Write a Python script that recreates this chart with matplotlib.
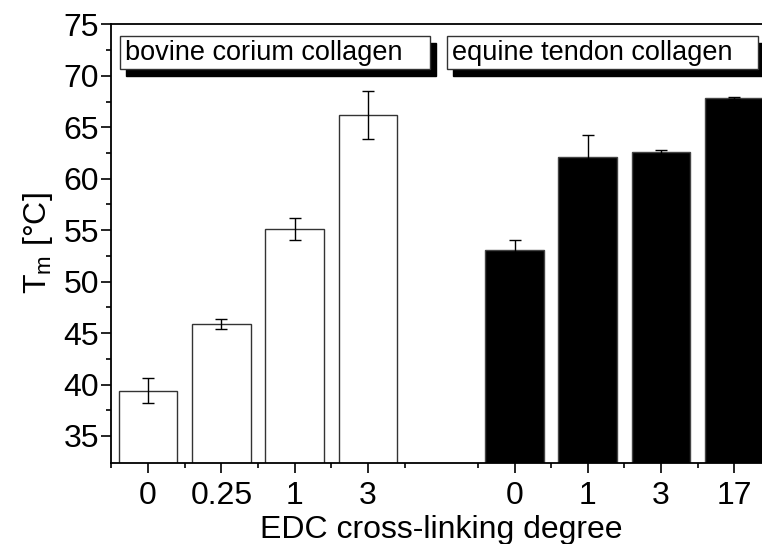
import matplotlib
matplotlib.use("Agg")
import matplotlib.pyplot as plt
from matplotlib.patches import Rectangle

plt.rcParams['font.family'] = ['Liberation Sans', 'DejaVu Sans']

# Data
bovine_labels = ["0", "0.25", "1", "3"]
bovine_values = [39.4, 45.9, 55.1, 66.2]
bovine_errors = [1.2, 0.5, 1.1, 2.3]
equine_labels = ["0", "1", "3", "17"]
equine_values = [53.1, 62.1, 62.6, 67.8]
equine_errors = [0.9, 2.1, 0.2, 0.1]
group_names = ["bovine corium collagen", "equine tendon collagen"]

bov_x = [1, 2, 3, 4]
equ_x = [6, 7, 8, 9]

fig = plt.figure(figsize=(7.62, 5.44), dpi=100)
ax = fig.add_axes([0.1463, 0.1494, 1.0118 - 0.1463, 0.9553 - 0.1494])

ax.bar(bov_x, bovine_values, width=0.8, color='white', edgecolor='#333333',
       linewidth=1.0, zorder=2)
ax.bar(equ_x, equine_values, width=0.8, color='black', edgecolor='#444444',
       linewidth=1.0, zorder=2)
ax.errorbar(bov_x, bovine_values, yerr=bovine_errors, fmt='none', ecolor='black',
            elinewidth=1.0, capsize=4, capthick=1.0, zorder=3)
ax.errorbar(equ_x, equine_values, yerr=equine_errors, fmt='none', ecolor='black',
            elinewidth=1.0, capsize=4, capthick=1.0, zorder=3)

ax.set_xlim(0.5, 9.5)
ax.set_ylim(32.4, 75)

ax.set_xticks(bov_x + equ_x)
ax.set_xticklabels(bovine_labels + equine_labels)
ax.set_xticks([0.5, 1.5, 2.5, 3.5, 4.5, 5.5, 6.5, 7.5, 8.5], minor=True)
ax.set_yticks([35, 40, 45, 50, 55, 60, 65, 70, 75])
ax.set_yticks([37.5, 42.5, 47.5, 52.5, 57.5, 62.5, 67.5, 72.5], minor=True)

ax.tick_params(axis='both', which='major', labelsize=23, direction='out',
               length=7, width=1.2, pad=2)
ax.tick_params(axis='both', which='minor', direction='out', length=3.5, width=1.2)
ax.tick_params(axis='x', which='major', pad=6)

for s in ['left', 'bottom', 'top']:
    ax.spines[s].set_linewidth(1.3)
ax.spines['right'].set_visible(False)

ax.set_xlabel("EDC cross-linking degree", fontsize=23, labelpad=3)
ax.set_ylabel(r"T$_\mathregular{m}$ [°C]", fontsize=23, labelpad=6)

# Group label boxes with shadow
boxes = [(0.613, 4.845), (5.08, 9.32)]
y0, y1 = 70.66, 73.86
dx, dy = 0.08, 0.68
for (bx0, bx1), name in zip(boxes, group_names):
    ax.add_patch(Rectangle((bx0 + dx, y0 - dy), bx1 - bx0, y1 - y0,
                           facecolor='black', edgecolor='black', zorder=4))
    ax.add_patch(Rectangle((bx0, y0), bx1 - bx0, y1 - y0,
                           facecolor='white', edgecolor='#333333', linewidth=1.0,
                           zorder=5))
    ax.text(bx0 + 0.07, (y0 + y1) / 2, name, fontsize=19.5, ha='left',
            va='center', zorder=6)

fig.savefig("out.png", dpi=100)
